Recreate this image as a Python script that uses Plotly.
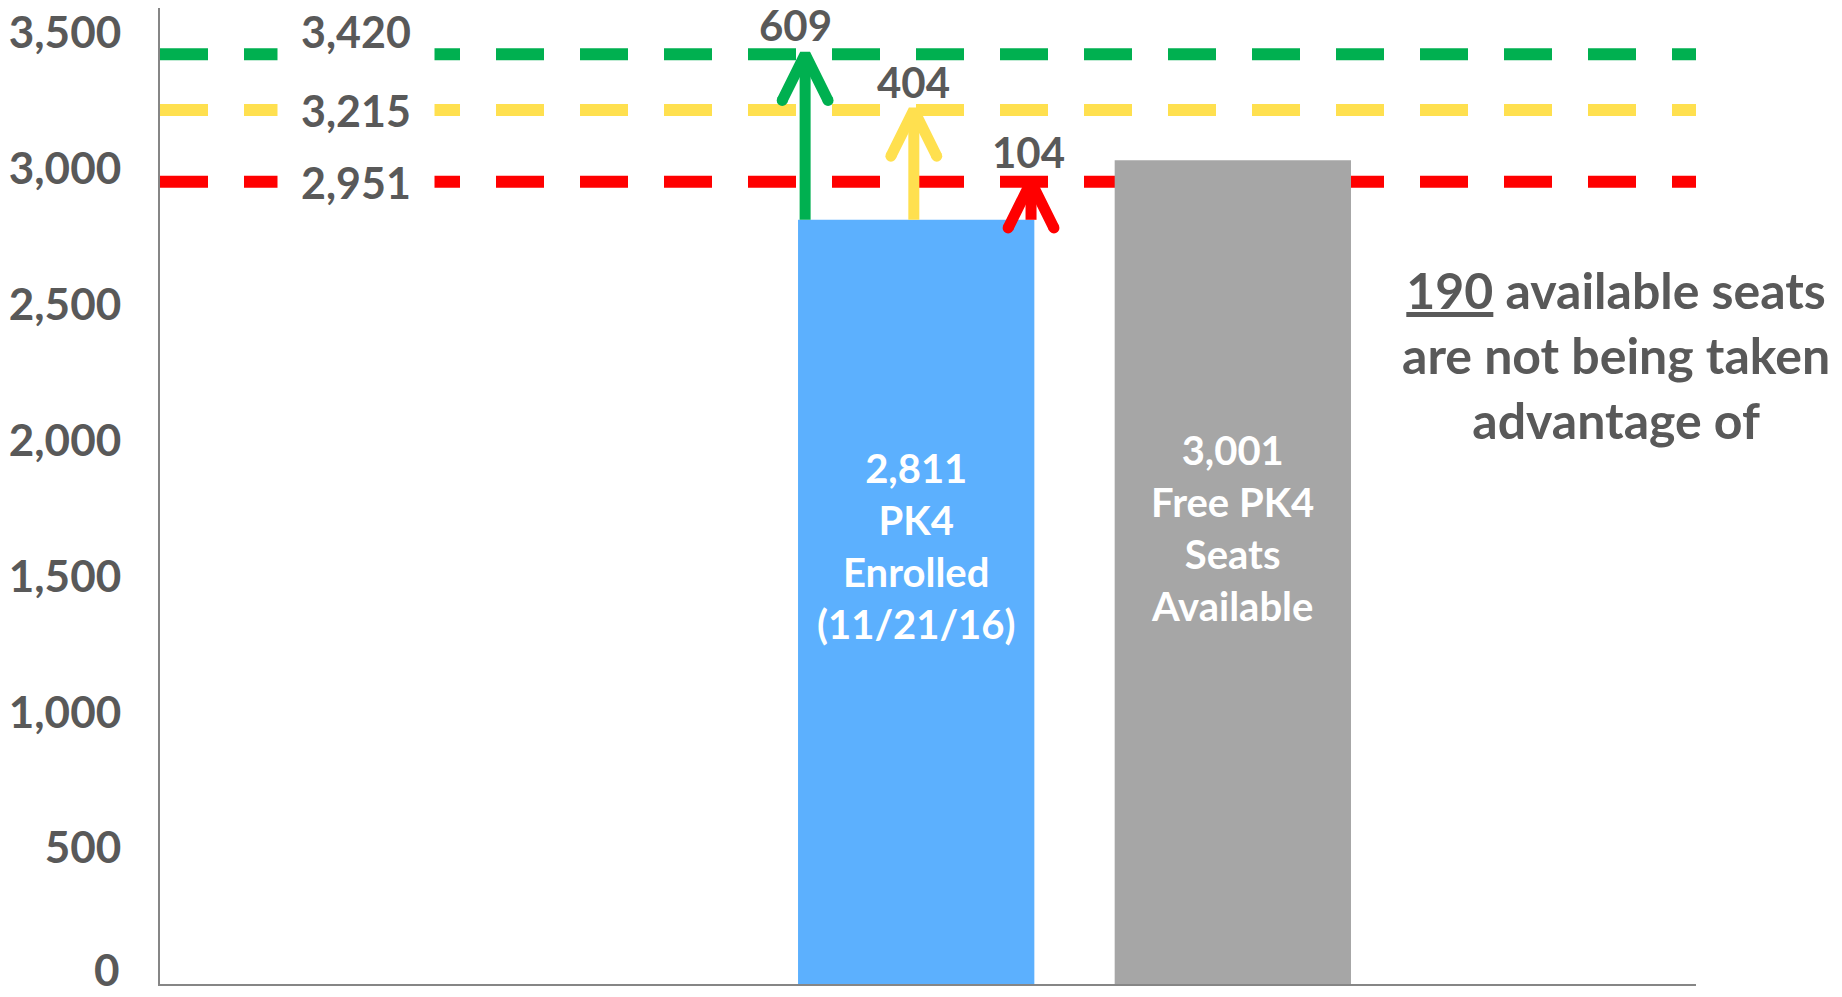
import plotly.graph_objects as go

# ---- data ----
bar_labels = ["2,811<br>PK4<br>Enrolled<br>(11/21/16)", "3,001<br>Free PK4<br>Seats<br>Available"]
bar_values = [2811, 3001]
bar_tops_drawn = [2811, 3030]      # heights as drawn in the picture
bar_bases_drawn = [0, -26]
bar_colors = ["#5CB0FE", "#A6A6A6"]

threshold_values = [3420, 3215, 2951]
threshold_labels = ["3,420", "3,215", "2,951"]
threshold_colors = ["#00B050", "#FFE04F", "#FF0000"]

gap_labels = ["609", "404", "104"]

note_text = "<u>190</u> available seats<br>are not being taken<br>advantage of"

y_ticks = [500, 1000, 1500, 2000, 2500, 3000, 3500]
zero_label = "0"

# ---- layout constants ----
TXT = "#595959"
FONT = "Lato"
X_RANGE = [0, 6.5]
Y_RANGE = [0, 3590]
bar_x = [3.2, 4.54]
bar_w = 1.0
bar_text_y = [1611, 1677]
arrow_x = [bar_x[0] - 0.47, bar_x[0] - 0.01, bar_x[0] + 0.486]
gap_label_pos = [(2.69, 3527), (3.19, 3317), (3.675, 3060)]
label_x = 0.83
label_yshift = [23, 0, 0]
wing_dx = 0.097
wing_dy = 170

fig = go.Figure()

# bars
fig.add_trace(go.Bar(
    x=bar_x,
    y=[t - b for t, b in zip(bar_tops_drawn, bar_bases_drawn)],
    base=bar_bases_drawn, width=bar_w, cliponaxis=False,
    marker=dict(color=bar_colors, line=dict(width=0)),
    hoverinfo="skip", showlegend=False,
))

# dashed threshold lines (below traces)
for v, c in zip(threshold_values, threshold_colors):
    fig.add_shape(type="line", xref="paper", x0=0, x1=1, yref="y", y0=v, y1=v,
                  line=dict(color=c, width=12, dash="48px,36px"), layer="below")

# arrows from enrolled bar top up to each threshold
base = bar_values[0]
for ax, v, c in zip(arrow_x, threshold_values, threshold_colors):
    fig.add_trace(go.Scatter(x=[ax, ax], y=[base, v], mode="lines",
                             line=dict(color=c, width=11),
                             hoverinfo="skip", showlegend=False))
    fig.add_trace(go.Scatter(x=[ax - wing_dx, ax, ax + wing_dx],
                             y=[v - wing_dy, v, v - wing_dy], mode="lines",
                             line=dict(color=c, width=11),
                             hoverinfo="skip", showlegend=False))
    fig.add_trace(go.Scatter(x=[ax - wing_dx, ax + wing_dx],
                             y=[v - wing_dy, v - wing_dy], mode="markers",
                             marker=dict(color=c, size=11, line=dict(width=0)),
                             hoverinfo="skip", showlegend=False))

# threshold labels with white boxes
for v, lab, ys in zip(threshold_values, threshold_labels, label_yshift):
    fig.add_annotation(x=label_x, y=v, xref="x", yref="y", text=lab, showarrow=False,
                       bgcolor="white", width=156, height=50 + 2 * ys if ys else 50,
                       borderpad=0, yshift=ys, xanchor="center", yanchor="middle",
                       font=dict(family=FONT, size=43, color=TXT, weight="bold"))

# gap labels
for (gx, gy), lab in zip(gap_label_pos, gap_labels):
    fig.add_annotation(x=gx, y=gy, xref="x", yref="y", text=lab, showarrow=False,
                       xanchor="center", yanchor="middle",
                       font=dict(family=FONT, size=42, color=TXT, weight="bold"))

# bar texts
for bx, by, lab in zip(bar_x, bar_text_y, bar_labels):
    fig.add_annotation(x=bx, y=by, xref="x", yref="y", text=lab, showarrow=False,
                       xanchor="center", yanchor="middle",
                       font=dict(family=FONT, size=40, color="white", weight="bold"))

# note on the right
fig.add_annotation(x=0.948, y=0.6445, xref="paper", yref="paper", text=note_text,
                   showarrow=False, align="center", xanchor="center", yanchor="middle",
                   font=dict(family=FONT, size=50, color=TXT, weight="bold"))

# zero tick label (kept inside the page)
fig.add_annotation(x=0, y=0, xref="paper", yref="y", text=zero_label, showarrow=False,
                   xanchor="right", yanchor="middle", xshift=-38, yshift=15,
                   font=dict(family=FONT, size=44, color=TXT, weight="bold"))

fig.update_layout(
    width=1842, height=997,
    margin=dict(l=160, r=146, t=8, b=13, autoexpand=False),
    paper_bgcolor="white", plot_bgcolor="white",
    showlegend=False,
    xaxis=dict(range=X_RANGE, showgrid=False, zeroline=False, showticklabels=False,
               automargin=False,
               ticks="", showline=True, linecolor="#868686", linewidth=2, fixedrange=True),
    yaxis=dict(range=Y_RANGE, tickvals=y_ticks, tickformat=",", showgrid=False,
               zeroline=False, ticks="", showline=True, linecolor="#868686", linewidth=2,
               automargin=False,
               ticklabelstandoff=28, ticklabeloverflow="allow",
               tickfont=dict(family=FONT, size=44, color=TXT, weight="bold")),
)

fig.write_html("out.html", config={"displayModeBar": False},
               post_script="document.body.style.margin='0';")
